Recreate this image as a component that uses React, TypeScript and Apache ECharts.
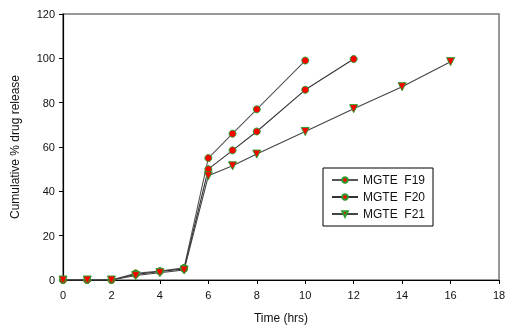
import React, { useEffect, useRef } from "react";
import * as echarts from "echarts";

const timeF19 = [0, 1, 2, 3, 4, 5, 6, 7, 8, 10];
const valF19 = [0, 0, 0, 3, 4, 5.5, 55, 66, 77, 99];
const timeF20 = [0, 1, 2, 3, 4, 5, 6, 7, 8, 10, 12];
const valF20 = [0, 0, 0, 2.5, 3.8, 5, 50, 58.5, 67, 85.8, 99.7];
const timeF21 = [0, 1, 2, 3, 4, 5, 6, 7, 8, 10, 12, 14, 16];
const valF21 = [0, 0, 0, 2, 3.3, 4.5, 47, 51.5, 56.8, 67, 77.3, 87.2, 98.5];
const seriesNames = ["MGTE  F19", "MGTE  F20", "MGTE  F21"];

const pairs = (xs: number[], ys: number[]) => xs.map((x, i) => [x, ys[i]]);

export default function App() {
  const ref = useRef<HTMLDivElement>(null);
  useEffect(() => {
    const chart = echarts.init(ref.current!, null, { renderer: "svg" });
    const font = "Liberation Sans, Arial, sans-serif";
    const mk = (name: string, data: number[][], symbol: string, lineColor: string) => ({
      name,
      type: "line",
      data,
      symbol,
      symbolSize: symbol === "triangle" ? 8 : 7,
      symbolRotate: symbol === "triangle" ? 180 : 0,
      itemStyle: { color: "#ff0000", borderColor: "#2e9a2e", borderWidth: 1 },
      lineStyle: { color: lineColor, width: 1.1 },
      emphasis: { disabled: true },
    });
    chart.setOption({
      animation: false,
      textStyle: { fontFamily: font },
      grid: {
        left: 63,
        right: 6,
        top: 14,
        bottom: 47,
        containLabel: false,
        outerBoundsMode: "none",
        show: true,
        borderColor: "#777",
        borderWidth: 1.5,
      },
      xAxis: {
        type: "value",
        min: 0,
        max: 18,
        interval: 2,
        name: "Time (hrs)",
        nameLocation: "middle",
        nameGap: 32,
        nameTextStyle: { fontSize: 12, color: "#111", fontFamily: font },
        axisLine: { show: true, lineStyle: { color: "#000", width: 1.2 } },
        axisTick: { show: true, length: 4, lineStyle: { color: "#000" } },
        axisLabel: { fontSize: 11, color: "#111", margin: 9 },
        splitLine: { show: false },
      },
      yAxis: {
        type: "value",
        min: 0,
        max: 120,
        interval: 20,
        name: "Cumulative % drug release",
        nameLocation: "middle",
        nameGap: 42,
        nameTextStyle: { fontSize: 12, color: "#111", fontFamily: font },
        axisLine: { show: true, lineStyle: { color: "#000", width: 1.2 } },
        axisTick: { show: true, length: 4, lineStyle: { color: "#000" } },
        axisLabel: { fontSize: 11, color: "#111", margin: 8 },
        splitLine: { show: false },
      },
      legend: {
        show: true,
        orient: "vertical",
        left: 323,
        top: 168,
        width: 111,
        itemWidth: 26,
        itemHeight: 7,
        itemGap: 5,
        padding: [6, 8, 6, 8],
        borderColor: "#000",
        borderWidth: 1,
        backgroundColor: "#fff",
        textStyle: { fontSize: 12, color: "#111", fontFamily: font },
        data: seriesNames,
      },
      series: [
        mk(seriesNames[0], pairs(timeF19, valF19), "circle", "#555"),
        mk(seriesNames[1], pairs(timeF20, valF20), "circle", "#333"),
        mk(seriesNames[2], pairs(timeF21, valF21), "triangle", "#444"),
      ],
    });
    return () => chart.dispose();
  }, []);
  return (
    <div
      ref={ref}
      style={{ position: "fixed", left: 0, top: 0, width: 505, height: 327 }}
    />
  );
}
